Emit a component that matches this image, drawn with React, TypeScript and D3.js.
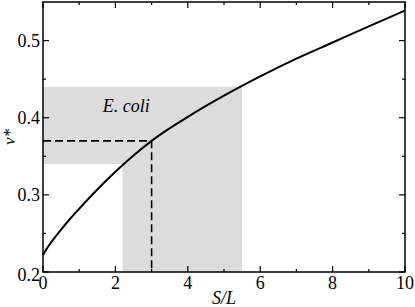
import React from "react";
import * as d3 from "d3";

const curveX = [0, 0.1, 0.25, 0.5, 0.75, 1, 1.5, 2, 2.5, 3, 4, 5, 6, 7, 8, 9, 10];
const curveY = [0.222, 0.23, 0.24, 0.255, 0.269, 0.282, 0.307, 0.33, 0.351, 0.37, 0.401, 0.4285, 0.4535, 0.4765, 0.4975, 0.5185, 0.539];

// gray region (E. coli range): horizontal band and vertical band
const bandX = [0, 5.5];
const bandY = [0.34, 0.44];
const bandX2 = [2.2, 5.5];
const bandY2 = [0.2, 0.44];

const markX = 3;
const markY = 0.37;

const xMajor = [0, 2, 4, 6, 8, 10];
const xMinor = [1, 3, 5, 7, 9];
const yMajor = [0.2, 0.3, 0.4, 0.5];
const yMinor = [0.25, 0.35, 0.45];
const yLabels = ["0.2", "0.3", "0.4", "0.5"];

const labelText = "E. coli";
const labelPos = [2.3, 0.408];

export default function App() {
  const W = 415, H = 307;
  const L = 43, R = 405, T = 2, B = 272;
  const x = d3.scaleLinear().domain([0, 10]).range([L, R]);
  const y = d3.scaleLinear().domain([0.2, 0.55]).range([B, T]);
  const pts: [number, number][] = curveX.map((v, i) => [v, curveY[i]]);
  const line = d3
    .line<[number, number]>()
    .x((d) => x(d[0]))
    .y((d) => y(d[1]))
    .curve(d3.curveMonotoneX);
  const font = '"Liberation Serif", "Times New Roman", Times, "DejaVu Serif", serif';
  const maj = 6, mn = 3;
  const ts = { fontFamily: font, fontSize: 18 };
  const its = { fontFamily: font, fontSize: 18, fontStyle: "italic" as const };
  return (
    <svg width={W} height={H} style={{ position: "absolute", left: 0, top: 0, background: "#fff", fontFamily: font }}>
      <rect x={x(bandX[0])} y={y(bandY[1])} width={x(bandX[1]) - x(bandX[0])} height={y(bandY[0]) - y(bandY[1])} fill="#dcdcdc" />
      <rect x={x(bandX2[0])} y={y(bandY2[1])} width={x(bandX2[1]) - x(bandX2[0])} height={y(bandY2[0]) - y(bandY2[1])} fill="#dcdcdc" />
      <text x={x(labelPos[0])} y={y(labelPos[1])} style={its} textAnchor="middle">{labelText}</text>
      <path d={`M${x(0)},${y(markY)}H${x(markX)}V${y(0.2)}`} fill="none" stroke="#000" strokeWidth={1.6} strokeDasharray="8,4" />
      <path d={line(pts) || ""} fill="none" stroke="#000" strokeWidth={2} />
      <rect x={L} y={T} width={R - L} height={B - T} fill="none" stroke="#000" strokeWidth={1.5} />
      {xMajor.map((v) => (
        <g key={"xM" + v}>
          <line x1={x(v)} x2={x(v)} y1={B} y2={B - maj} stroke="#000" strokeWidth={1.2} />
          <line x1={x(v)} x2={x(v)} y1={T} y2={T + maj} stroke="#000" strokeWidth={1.2} />
          <text x={x(v)} y={289} style={ts} textAnchor="middle">{v}</text>
        </g>
      ))}
      {xMinor.map((v) => (
        <g key={"xm" + v}>
          <line x1={x(v)} x2={x(v)} y1={B} y2={B - mn} stroke="#000" strokeWidth={1.2} />
          <line x1={x(v)} x2={x(v)} y1={T} y2={T + mn} stroke="#000" strokeWidth={1.2} />
        </g>
      ))}
      {yMajor.map((v, i) => (
        <g key={"yM" + v}>
          <line x1={L} x2={L + maj} y1={y(v)} y2={y(v)} stroke="#000" strokeWidth={1.2} />
          <line x1={R} x2={R - maj} y1={y(v)} y2={y(v)} stroke="#000" strokeWidth={1.2} />
          <text x={40} y={i === 0 ? 281 : y(v) + 6.5} style={ts} textAnchor="end">{yLabels[i]}</text>
        </g>
      ))}
      {yMinor.map((v) => (
        <g key={"ym" + v}>
          <line x1={L} x2={L + mn} y1={y(v)} y2={y(v)} stroke="#000" strokeWidth={1.2} />
          <line x1={R} x2={R - mn} y1={y(v)} y2={y(v)} stroke="#000" strokeWidth={1.2} />
        </g>
      ))}
      <text x={(L + R) / 2} y={304} style={its} textAnchor="middle">S/L</text>
      <text transform={`translate(15,${(T + B) / 2}) rotate(-90)`} style={{ ...its, fontSize: 17 }} textAnchor="middle">v*</text>
    </svg>
  );
}
